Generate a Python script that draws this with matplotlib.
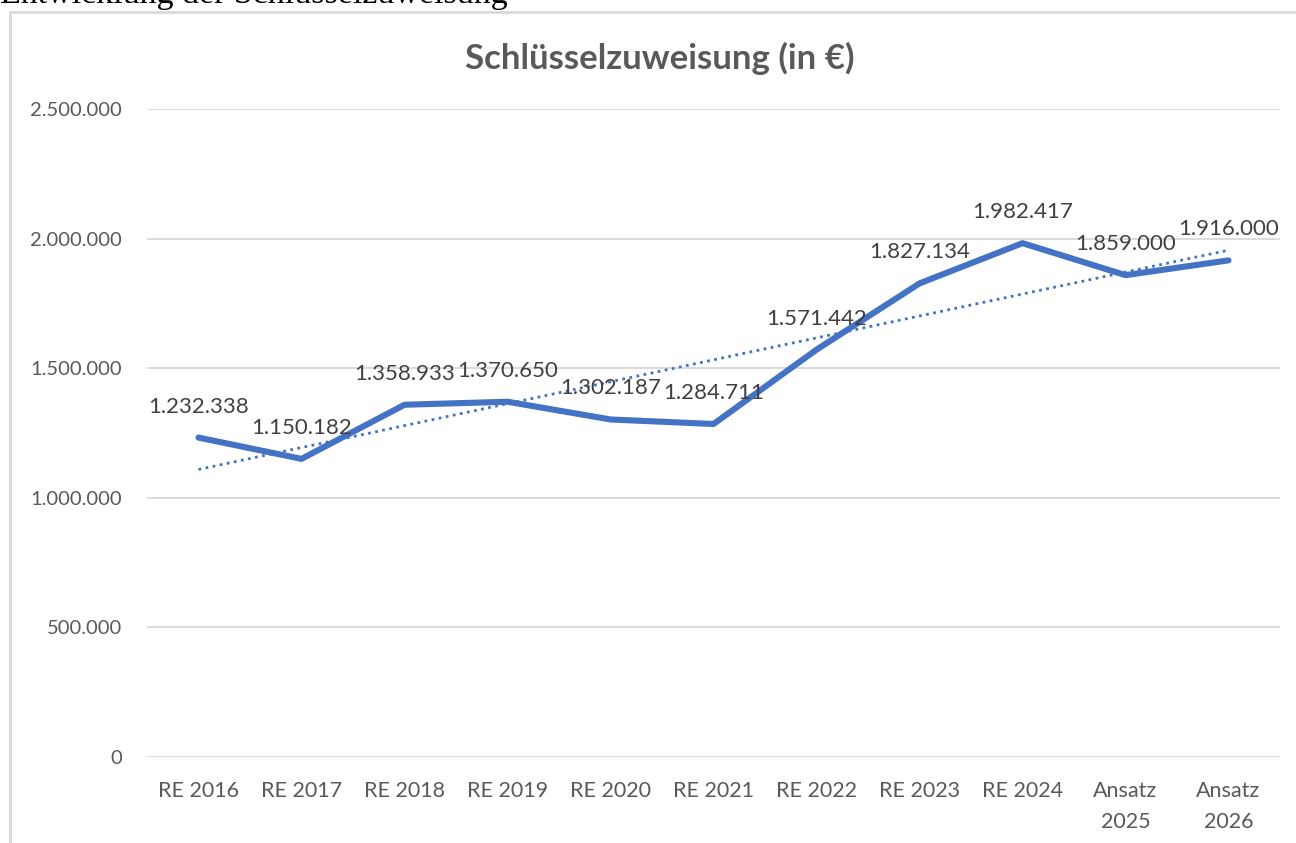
import numpy as np
import matplotlib
matplotlib.use("Agg")
import matplotlib.pyplot as plt
from matplotlib.patches import Rectangle
from matplotlib.ticker import FuncFormatter

# ---- Daten ----
kategorien = ["RE 2016", "RE 2017", "RE 2018", "RE 2019", "RE 2020", "RE 2021",
              "RE 2022", "RE 2023", "RE 2024", "Ansatz\n2025", "Ansatz\n2026"]
werte = [1232338, 1150182, 1358933, 1370650, 1302187, 1284711,
         1571442, 1827134, 1982417, 1859000, 1916000]
y_ticks = [0, 500000, 1000000, 1500000, 2000000, 2500000]

BLAU = "#4472C4"
GRAU_TEXT = "#595959"
GRAU_LINIE = "#D9D9D9"

plt.rcParams["font.family"] = ["Lato", "DejaVu Sans"]

def de_format(v, pos=None):
    return f"{int(round(v)):,}".replace(",", ".")

fig = plt.figure(figsize=(12.96, 8.43), dpi=100)
W, H = 1296, 843

# Rahmen des Diagramms (wie Excel-Diagrammfläche)
fig.patches.append(Rectangle((10 / W, -0.05), 1.2, 1 - 12 / H + 0.05,
                             transform=fig.transFigure, facecolor="white",
                             edgecolor=GRAU_LINIE, linewidth=2.0, zorder=-5))

# abgeschnittene Überschrift oben links
fig.text(0.0, 1 - 3 / H, "Entwicklung der Schlüsselzuweisung",
         family=["Liberation Serif", "DejaVu Serif"], fontsize=24.5,
         color="black", ha="left", va="baseline")

ax = fig.add_axes([147 / W, 1 - 757 / H, (1280 - 147) / W, (757 - 109) / H])
ax.set_facecolor("none")

x = np.arange(len(werte))
ax.plot(x, werte, color=BLAU, linewidth=4.4, solid_joinstyle="round",
        solid_capstyle="round", zorder=3)

# lineare Trendlinie
m, b = np.polyfit(x, werte, 1)
ax.plot(x, m * x + b, color=BLAU, linewidth=2.0, linestyle=(0, (1, 1.6)), zorder=2)

for xi, v in zip(x, werte):
    ax.annotate(de_format(v), (xi, v), xytext=(0, 31), textcoords="offset pixels",
                ha="center", va="center", fontsize=16, color="#404040", zorder=4)

ax.set_xlim(-0.5, len(werte) - 0.5)
ax.set_ylim(0, 2500000)
ax.set_yticks(y_ticks)
ax.yaxis.set_major_formatter(FuncFormatter(de_format))
ax.set_xticks(x)
ax.set_xticklabels(kategorien, linespacing=1.7)
ax.tick_params(axis="both", length=0, labelsize=14.5, labelcolor=GRAU_TEXT)
ax.tick_params(axis="x", labelsize=15.5, pad=17)
ax.tick_params(axis="y", pad=18)
ax.grid(axis="y", color=GRAU_LINIE, linewidth=1.3)
ax.set_axisbelow(True)
for s in ax.spines.values():
    s.set_visible(False)

fig.text(660 / W, 1 - 58 / H, "Schlüsselzuweisung (in €)", ha="center", va="center",
         fontsize=25, fontweight="bold", color=GRAU_TEXT)

fig.savefig("out.png", dpi=100)
